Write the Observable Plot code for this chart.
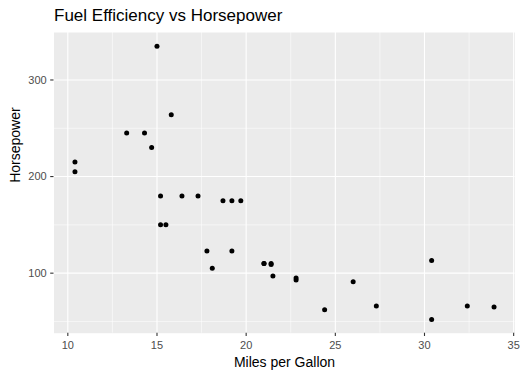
<!DOCTYPE html>
<html>
<head>
<meta charset="utf-8">
<script src="https://cdn.jsdelivr.net/npm/d3@7"></script>
<script src="https://cdn.jsdelivr.net/npm/@observablehq/plot@0.6"></script>
<style>
  body { margin: 0; background: #fff; font-family: "Liberation Sans", Arial, sans-serif; }
  #wrap { position: relative; width: 523px; height: 378px; }
  #title { position: absolute; left: 54px; top: 7px; font-size: 17px; line-height: 17px; color: #000; white-space: nowrap; }
  svg { display: block; }
</style>
</head>
<body>
<div id="wrap">
  <div id="title">Fuel Efficiency vs Horsepower</div>
  <div id="chart"></div>
</div>
<script>
const title = "Fuel Efficiency vs Horsepower";
const xLabel = "Miles per Gallon";
const yLabel = "Horsepower";
const mpg = [21.0, 21.0, 22.8, 21.4, 18.7, 18.1, 14.3, 24.4, 22.8, 19.2, 17.8, 16.4, 17.3, 15.2, 10.4, 10.4, 14.7, 32.4, 30.4, 33.9, 21.5, 15.5, 15.2, 13.3, 19.2, 27.3, 26.0, 30.4, 15.8, 19.7, 15.0, 21.4];
const hp = [110, 110, 93, 110, 175, 105, 245, 62, 95, 123, 123, 180, 180, 180, 205, 215, 230, 66, 52, 65, 97, 150, 150, 245, 175, 66, 91, 113, 264, 175, 335, 109];
const xTicks = [10, 15, 20, 25, 30, 35];
const xMinor = [12.5, 17.5, 22.5, 27.5, 32.5];
const yTicks = [100, 200, 300];
const yMinor = [50, 150, 250];

const data = mpg.map((m, i) => ({mpg: m, hp: hp[i]}));
const xr = d3.extent(mpg), yr = d3.extent(hp);
const xPad = (xr[1] - xr[0]) * 0.05, yPad = (yr[1] - yr[0]) * 0.05;

const chart = Plot.plot({
  width: 523,
  height: 378,
  marginLeft: 53.5,
  marginRight: 8.5,
  marginTop: 32,
  marginBottom: 45.3,
  style: {fontFamily: "Liberation Sans, Arial, sans-serif", background: "transparent"},
  x: {domain: [xr[0] - xPad, xr[1] + xPad]},
  y: {domain: [yr[0] - yPad, yr[1] + yPad]},
  marks: [
    Plot.frame({fill: "#EBEBEB", stroke: null}),
    Plot.gridX(xMinor, {stroke: "#fff", strokeOpacity: 1, strokeWidth: 0.55}),
    Plot.gridY(yMinor, {stroke: "#fff", strokeOpacity: 1, strokeWidth: 0.55}),
    Plot.gridX(xTicks, {stroke: "#fff", strokeOpacity: 1, strokeWidth: 1.1}),
    Plot.gridY(yTicks, {stroke: "#fff", strokeOpacity: 1, strokeWidth: 1.1}),
    Plot.axisX(xTicks, {tickSize: 3.3, tickPadding: 5, stroke: "#333", strokeWidth: 1.1, fill: "#4D4D4D", fontSize: 11, label: null}),
    Plot.axisY(yTicks, {tickSize: 3.3, tickPadding: 4, stroke: "#333", strokeWidth: 1.1, fill: "#4D4D4D", fontSize: 11, label: null}),
    Plot.dot(data, {x: "mpg", y: "hp", r: 2.5, fill: "#000", stroke: null}),
    Plot.text([xLabel], {frameAnchor: "bottom", dy: 29.5, fontSize: 14, fill: "#000", lineAnchor: "middle"}),
    Plot.text([yLabel], {frameAnchor: "left", dx: -38.5, rotate: -90, fontSize: 14, fill: "#000", lineAnchor: "middle"})
  ]
});
document.getElementById("chart").appendChild(chart);
</script>
</body>
</html>
